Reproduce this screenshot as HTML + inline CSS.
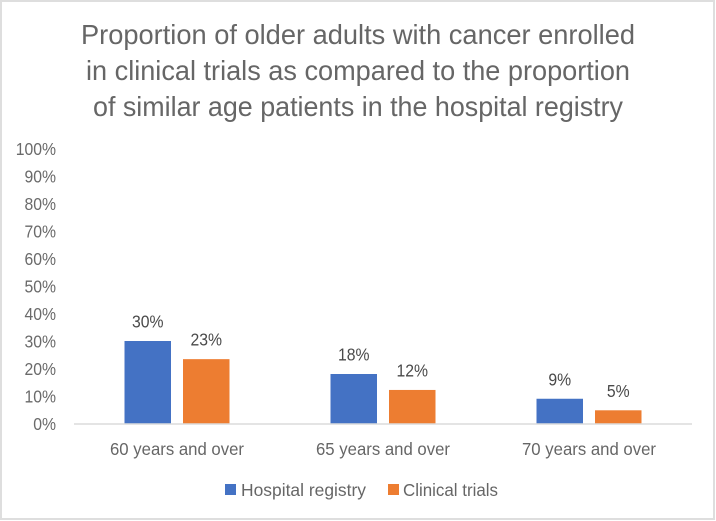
<!DOCTYPE html>
<html lang="en">
<head>
<meta charset="utf-8">
<title>Older adults in clinical trials</title>
<style>
html,body{margin:0;padding:0;background:#fff;}
svg{display:block;font-family:"Liberation Sans",sans-serif;}
</style>
</head>
<body>
<svg id="chart" width="716" height="521" viewBox="0 0 716 521" xmlns="http://www.w3.org/2000/svg">
  <rect x="1" y="1" width="713" height="518" fill="#fff" stroke="#dedede" stroke-width="2"/>
  <g fill="#666" font-size="27.5" text-anchor="middle">
    <text x="358" y="44" textLength="554" lengthAdjust="spacingAndGlyphs">Proportion of older adults with cancer enrolled</text>
    <text x="358" y="80" textLength="544" lengthAdjust="spacingAndGlyphs">in clinical trials as compared to the proportion</text>
    <text x="358" y="116" textLength="530" lengthAdjust="spacingAndGlyphs">of similar age patients in the hospital registry</text>
  </g>
  <g id="y-axis"></g>
  <g id="bars"></g>
  <g id="x-axis"></g>
  <g font-size="17.5" fill="#666">
    <g>
      <rect x="225" y="484" width="11" height="11" fill="#4472c4"/>
      <text x="241" y="496" textLength="125" lengthAdjust="spacingAndGlyphs">Hospital registry</text>
    </g>
    <g>
      <rect x="388" y="484" width="11" height="11" fill="#ed7d31"/>
      <text x="403" y="496" textLength="95" lengthAdjust="spacingAndGlyphs">Clinical trials</text>
    </g>
  </g>
</svg>
<script>
const categories = ["60 years and over", "65 years and over", "70 years and over"];
const hospitalRegistry = [30, 18, 9];
const clinicalTrials = [23.4, 12.2, 4.8];
const yTicks = [0, 10, 20, 30, 40, 50, 60, 70, 80, 90, 100];

const NS = "http://www.w3.org/2000/svg";
const plotLeft = 74, plotRight = 692, baseY = 423.5, pxPerUnit = 2.75;
const barWidth = 46.5, barGap = 12;
const narrow = 0.9;

function yScale(v) { return baseY - v * pxPerUnit; }
function xCenter(i) { return plotLeft + (plotRight - plotLeft) * (i + 0.5) / categories.length; }
function svgEl(tag, attrs, parent, txt) {
  const el = document.createElementNS(NS, tag);
  for (const k in attrs) el.setAttribute(k, attrs[k]);
  if (txt !== undefined) el.textContent = txt;
  parent.appendChild(el);
  return el;
}
function narrowText(el) {
  el.setAttribute("textLength", el.getComputedTextLength() * narrow);
  el.setAttribute("lengthAdjust", "spacingAndGlyphs");
}

const yAxis = document.getElementById("y-axis");
const xAxis = document.getElementById("x-axis");
const barsG = document.getElementById("bars");

yTicks.forEach(function (t) {
  const lab = svgEl("text", {x: 56, y: yScale(t) + 6.5, "text-anchor": "end", "font-size": 17.5, fill: "#6a6a6a"}, yAxis, t + "%");
  
  
  narrowText(lab);
});

const axisLine = svgEl("line", {x1: plotLeft, x2: plotRight, y1: baseY + 0.5, y2: baseY + 0.5, stroke: "#dcdcdc", "stroke-width": 1.5}, xAxis);



categories.forEach(function (c, i) {
  const lab = svgEl("text", {x: xCenter(i), y: 455, "text-anchor": "middle", "font-size": 17.5, fill: "#666", textLength: 134, lengthAdjust: "spacingAndGlyphs"}, xAxis, c);
  
  
});

function drawSeries(values, color, offset, name) {
  values.forEach(function (v, i) {
    const cx = xCenter(i) + offset;
    const bar = svgEl("rect", {x: cx - barWidth / 2, y: yScale(v), width: barWidth, height: baseY - yScale(v), fill: color}, barsG);
    
    
    const lab = svgEl("text", {x: cx, y: yScale(v) - 13.5, "text-anchor": "middle", "font-size": 17.5, fill: "#4a4a4a"}, barsG, Math.round(v) + "%");
    
    
    narrowText(lab);
  });
}
drawSeries(hospitalRegistry, "#4472c4", -(barWidth + barGap) / 2, "hospital-registry");
drawSeries(clinicalTrials, "#ed7d31", (barWidth + barGap) / 2, "clinical-trials");
</script>
</body>
</html>
